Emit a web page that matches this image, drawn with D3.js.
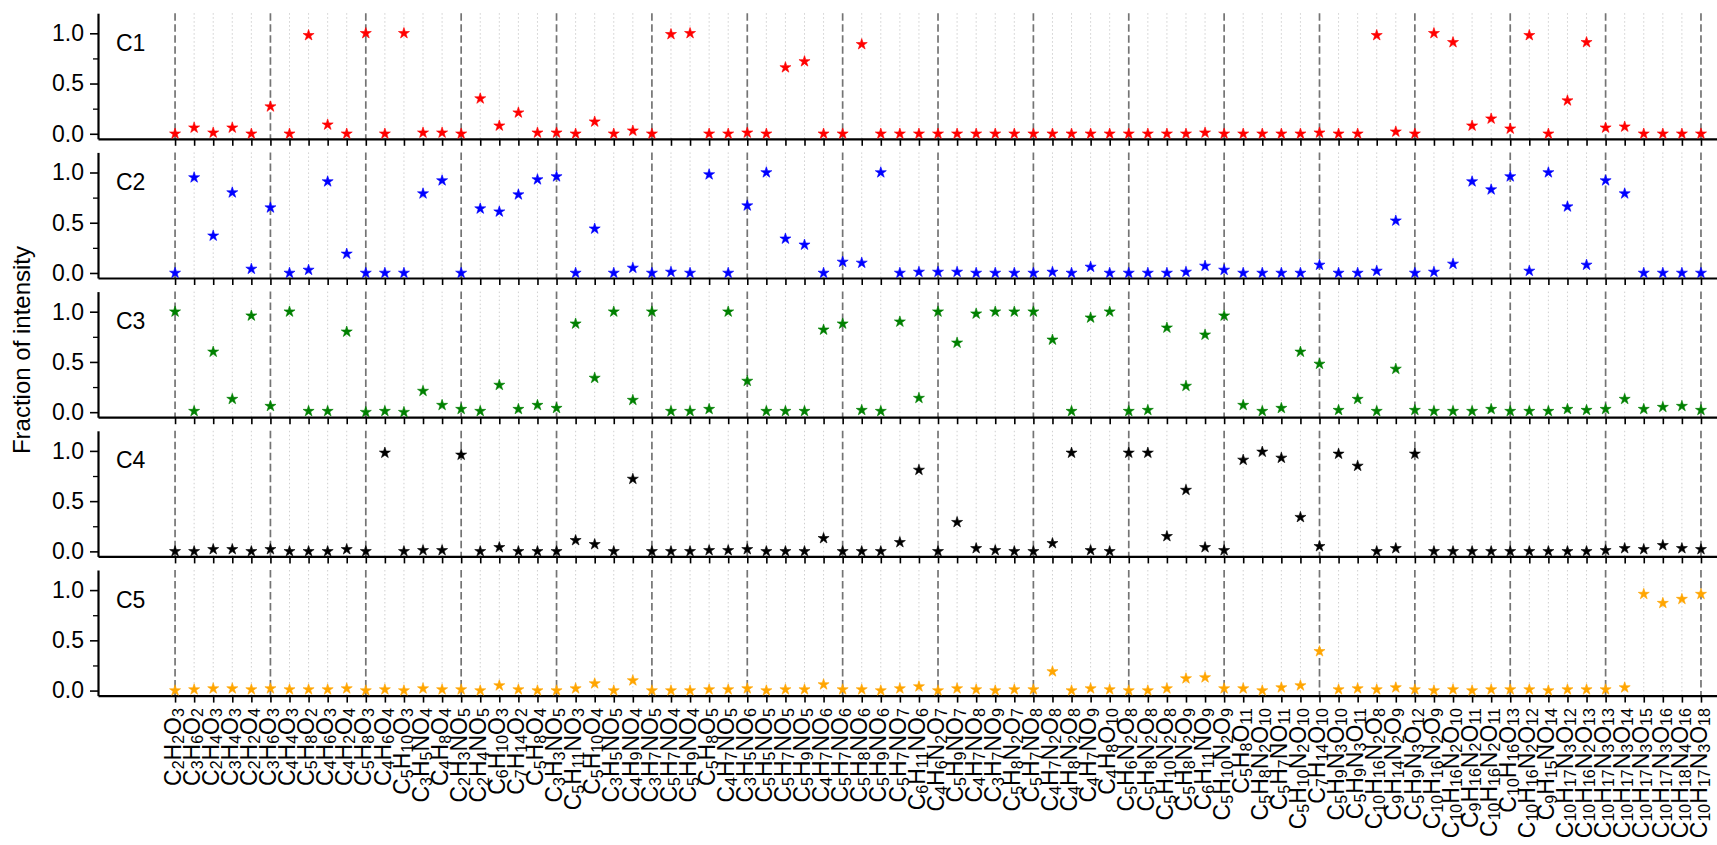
<!DOCTYPE html>
<html>
<head>
<meta charset="utf-8">
<script src="https://cdn.jsdelivr.net/npm/d3@7"></script>
<style>
  body { margin: 0; background: #fff; }
  svg { display: block; font-family: "Liberation Sans", Arial, sans-serif; }
</style>
</head>
<body>
<svg id="chart"></svg>
<script>
const formulas = ["C2H2O3","C3H6O2","C2H4O3","C3H4O3","C2H2O4","C3H6O3","C4H4O3","C5H8O2","C4H6O3","C4H2O4",
  "C5H8O3","C4H6O4","C5H10O3","C3H5NO4","C4H8O4","C2H3NO5","C2H4NO5","C6H10O3","C7H14O2","C5H8O4",
  "C3H3NO5","C5H11NO3","C5H10O4","C3H5NO5","C4H9NO4","C3H7NO5","C5H7NO4","C5H9NO4","C5H8O5","C4H7NO5",
  "C3H5NO6","C5H5NO5","C5H7NO5","C5H9NO5","C4H7NO6","C5H7NO6","C5H8NO6","C5H9NO6","C5H7NO7","C6H11NO6",
  "C4H6N2O7","C5H9NO7","C4H7NO8","C3H7NO9","C5H8N2O7","C5H7NO8","C4H7N2O8","C4H8N2O8","C4H7NO9","C4H8O10",
  "C5H6N2O8","C5H8N2O8","C5H10N2O8","C5H8N2O9","C6H11NO9","C5H10N2O9","C5H8O11","C5H8N2O10","C5H7NO11","C5H10N2O10",
  "C7H14O10","C5H9N3O10","C5H9N3O11","C10H16N2O8","C9H14N2O9","C5H9N3O12","C10H16N2O9","C10H16N2O10","C9H16N2O11","C10H16N2O11",
  "C10H16O13","C10H16N2O12","C9H15NO14","C10H17N3O12","C10H16N2O13","C10H17N3O13","C10H17N3O14","C10H17N3O15","C10H17N3O16","C10H18N4O16",
  "C10H17N3O18"];

const c1 = [0,0.06,0.01,0.06,0, 0.27,0,0.98,0.09,0, 1.0,0,1.0,0.01,0.01, 0,0.35,0.08,0.21,0.01,
  0.01,0,0.12,0,0.03, 0,0.99,1.0,0,0, 0.01,0,0.66,0.72,0, 0,0.89,0,0,0,
  0,0,0,0,0, 0,0,0,0,0, 0,0,0,0,0.01, 0,0,0,0,0,
  0.01,0,0,0.98,0.02, 0,1.0,0.91,0.08,0.15, 0.05,0.98,0,0.33,0.91, 0.06,0.07,0,0,0, 0];
const c2 = [0,0.95,0.37,0.80,0.04, 0.65,0,0.03,0.91,0.19, 0,0,0,0.79,0.92, 0,0.64,0.61,0.78,0.93,
  0.96,0,0.44,0,0.05, 0,0.01,0,0.98,0, 0.67,1.0,0.34,0.28,0, 0.11,0.10,1.0,0,0.01,
  0.01,0.01,0,0,0, 0,0.01,0,0.06,0, 0,0,0,0.01,0.07, 0.03,0,0,0,0,
  0.08,0,0,0.02,0.52, 0,0.01,0.09,0.91,0.83, 0.96,0.02,1.0,0.66,0.08, 0.92,0.79,0,0,0, 0];
const c3 = [1.0,0.01,0.60,0.13,0.96, 0.06,1.0,0.01,0.01,0.80, 0,0.01,0,0.21,0.07, 0.03,0.01,0.27,0.03,0.07,
  0.04,0.88,0.34,1.0,0.12, 1.0,0.01,0.01,0.03,1.0, 0.31,0.01,0.01,0.01,0.82, 0.88,0.02,0.01,0.90,0.14,
  1.0,0.69,0.98,1.0,1.0, 1.0,0.72,0.01,0.94,1.0, 0.01,0.02,0.84,0.26,0.77, 0.96,0.07,0.01,0.04,0.60,
  0.48,0.02,0.13,0.01,0.43, 0.02,0.01,0.01,0.01,0.03, 0.01,0.01,0.01,0.03,0.02, 0.03,0.13,0.03,0.05,0.06, 0.02];
const c4 = [0,0,0.02,0.02,0, 0.02,0,0,0,0.02, 0,0.98,0,0.01,0.01, 0.96,0,0.04,0,0,
  0,0.11,0.07,0,0.72, 0,0,0,0.01,0.01, 0.02,0,0,0,0.13, 0,0,0,0.09,0.81,
  0,0.29,0.03,0.01,0, 0,0.08,0.98,0.01,0, 0.98,0.98,0.15,0.61,0.04, 0.01,0.91,0.99,0.93,0.34,
  0.05,0.97,0.85,0,0.03, 0.97,0,0,0,0, 0,0,0,0,0, 0.01,0.03,0.02,0.06,0.03, 0.02];
const c5 = [0,0.01,0.02,0.02,0.01, 0.02,0.01,0.01,0.01,0.02, 0,0.01,0,0.02,0.01, 0.01,0,0.05,0.01,0,
  0,0.02,0.07,0,0.10, 0,0,0,0.01,0.01, 0.02,0,0.01,0.01,0.06, 0.01,0.01,0,0.02,0.04,
  0,0.02,0.01,0,0.01, 0.01,0.19,0,0.02,0.01, 0,0,0.02,0.12,0.13, 0.02,0.02,0,0.03,0.05,
  0.39,0.01,0.02,0.01,0.03, 0.01,0,0.01,0,0.01, 0.01,0.01,0,0.01,0.01, 0.01,0.03,0.96,0.87,0.91, 0.96];

const panelNames = ["C1", "C2", "C3", "C4", "C5"];
const series = [c1, c2, c3, c4, c5];
const colors = ["#ff0000", "#0000ff", "#008000", "#000000", "#ffa500"];
const yTicks = [0, 0.5, 1.0];
const yMinor = [0.25, 0.75];

const width = 1717;
const height = 845;
const left = 98;
const panelTop = 13.2;
const panelStep = 139.2;
const panelHeight = 125.6;

const svg = d3.select("#chart")
  .attr("width", width)
  .attr("height", height);

const idx = d3.range(formulas.length);

const x = d3.scaleLinear()
  .domain([-4.04, 80.84])
  .range([left, width]);
const y = d3.scaleLinear()
  .domain([-0.05, 1.2])
  .range([panelHeight, 0]);

const star = d3.symbol(d3.symbolStar, 38);

series.forEach((vals, p) => {
  const g = svg.append("g")
    .attr("transform", "translate(0," + (panelTop + p * panelStep) + ")");

  // vertical guide lines: dashed every 5th formula, dotted otherwise
  g.selectAll(".guide")
    .data(idx)
    .enter()
    .append("line")
    .attr("x1", i => x(i))
    .attr("x2", i => x(i))
    .attr("y1", 0)
    .attr("y2", panelHeight)
    .attr("stroke", i => i % 5 === 0 ? "#747474" : "#cfcfcf")
    .attr("stroke-width", i => i % 5 === 0 ? 1.7 : 1)
    .attr("stroke-dasharray", i => i % 5 === 0 ? "7.5,3.5" : "1.5,2.5");

  const xAxis = d3.axisBottom(x)
    .tickValues(idx)
    .tickSize(7)
    .tickSizeOuter(0)
    .tickFormat("");
  const xg = g.append("g")
    .attr("transform", "translate(0," + panelHeight + ")")
    .call(xAxis);
  xg.select(".domain").attr("stroke-width", 2.2);
  xg.selectAll(".tick line").attr("stroke-width", 1.6);

  const yAxis = d3.axisLeft(y)
    .tickValues(yTicks)
    .tickSize(8)
    .tickSizeOuter(0)
    .tickPadding(6)
    .tickFormat(d3.format(".1f"));
  const yg = g.append("g")
    .attr("transform", "translate(" + left + ",0)")
    .call(yAxis);
  yg.select(".domain").attr("stroke-width", 2.2);
  yg.selectAll(".tick line").attr("stroke-width", 1.6);
  yg.selectAll(".tick text")
    .attr("font-size", 23)
    .attr("font-family", "Liberation Sans, Arial, sans-serif")
    .attr("fill", "#000");

  const ym = g.append("g")
    .attr("transform", "translate(" + left + ",0)")
    .call(d3.axisLeft(y).tickValues(yMinor).tickSize(5).tickFormat(""));
  ym.select(".domain").remove();
  ym.selectAll(".tick line").attr("stroke-width", 1.3);

  g.append("text")
    .attr("x", 116)
    .attr("y", 37.5)
    .attr("font-size", 23)
    .text(panelNames[p]);

  g.selectAll(".star")
    .data(vals)
    .enter()
    .append("path")
    .attr("class", "star")
    .attr("d", star)
    .attr("transform", (d, i) => "translate(" + x(i) + "," + y(d) + ")")
    .attr("fill", colors[p])
    .attr("stroke", colors[p])
    .attr("stroke-width", 0.6);
});

// formula labels under the last panel, with subscripts
const labelTop = panelTop + 4 * panelStep + panelHeight + 12.5;
const labels = svg.append("g").attr("fill", "#000");
formulas.forEach((f, i) => {
  const t = labels.append("text")
    .attr("transform", "translate(" + (x(i) + 5.7) + "," + labelTop + ") rotate(-90)")
    .attr("text-anchor", "end")
    .attr("font-size", 23);
  let shift = 0;
  f.match(/[A-Z][a-z]?\d*/g).forEach(part => {
    const el = part.match(/[A-Z][a-z]?/)[0];
    const num = part.slice(el.length);
    t.append("tspan").attr("dy", -shift).text(el);
    shift = 0;
    if (num) {
      t.append("tspan").attr("dy", 3).attr("font-size", 16).text(num);
      shift = 3;
    }
  });
});

svg.append("text")
  .attr("transform", "translate(30,350) rotate(-90)")
  .attr("text-anchor", "middle")
  .attr("font-size", 24)
  .text("Fraction of intensity");
</script>
</body>
</html>
